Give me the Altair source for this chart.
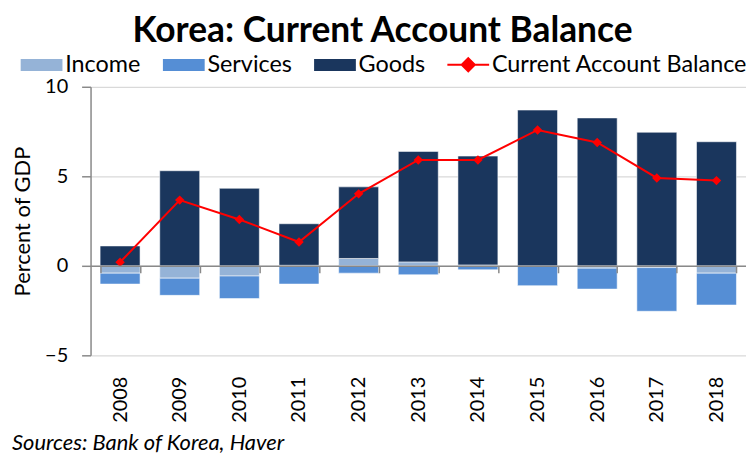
import altair as alt
import pandas as pd

# ---- data ----
years = ["2008", "2009", "2010", "2011", "2012", "2013", "2014", "2015", "2016", "2017", "2018"]
income = [-0.41, -0.69, -0.57, 0.03, 0.41, 0.22, 0.05, 0.0, -0.13, -0.10, -0.41]
services = [-0.61, -0.96, -1.26, -1.02, -0.41, -0.50, -0.22, -1.11, -1.17, -2.44, -1.78]
goods = [1.11, 5.31, 4.33, 2.32, 4.00, 6.17, 6.08, 8.70, 8.26, 7.46, 6.93]
cab = [0.20, 3.67, 2.59, 1.33, 4.02, 5.91, 5.91, 7.59, 6.89, 4.91, 4.76]

components = ["Income", "Services", "Goods"]
comp_colors = ["#95b3d7", "#558ed5", "#1a365d"]
line_name = "Current Account Balance"
line_color = "#ff0000"
title_text = "Korea: Current Account Balance"
y_title = "Percent of GDP"
source_note = "Sources: Bank of Korea, Haver"
y_ticks = [-5, 0, 5, 10]

# ---- tables ----
rows = []
for i, yr in enumerate(years):
    for k, (name, vals) in enumerate(zip(components, [income, services, goods])):
        rows.append({"year": yr, "component": name, "value": vals[i], "order": k})
bars_df = pd.DataFrame(rows)
line_df = pd.DataFrame({"year": years, "value": cab, "series": [line_name] * len(years)})
note_df = pd.DataFrame({"note": [source_note]})

FONT = "Lato"
W, H = 659, 270
GRAY = "#898989"

x_enc = alt.X(
    "year:O",
    sort=years,
    scale=alt.Scale(paddingInner=0.33, paddingOuter=0.16),
    axis=alt.Axis(
        title=None, orient="bottom", offset=-90, labelAngle=-90,
        labelPadding=104, labelFont=FONT, labelFontSize=20, labelColor="black",
        labelOverlap=False, labelBound=False, labelFlush=False,
        domainColor=GRAY, domainWidth=1.5, tickColor=GRAY, tickWidth=1.5,
        tickSize=7, tickBand="extent", grid=False, zindex=1,
    ),
)
y_scale = alt.Scale(domain=[-5, 10], nice=False, zero=False)
y_axis = alt.Axis(
    values=y_ticks, title=y_title, titleFont=FONT, titleFontSize=22,
    titleFontWeight="normal", titleColor="black", titlePadding=10,
    labelFont=FONT, labelFontSize=20, labelColor="black", labelPadding=14,
    tickSize=9, tickColor=GRAY, tickWidth=1.5, domainColor=GRAY, domainWidth=1.5,
    gridColor="#d9d9d9", gridWidth=1.2,
)

rect_symbol = "M-1,-1H6V1H-1Z"
line_symbol = "M-1,0H6M2.5,-1.1L3.6,0L2.5,1.1L1.4,0Z"

legend_common = dict(
    orient="none", legendY=-34, direction="horizontal", title=None, padding=0,
    symbolSize=144, symbolOpacity=1, labelFont=FONT, labelFontSize=23.5,
    labelColor="black", labelOffset=27, labelLimit=0,
)

bars = alt.Chart(bars_df).mark_bar(stroke="white", strokeWidth=1, strokeOpacity=0.55).encode(
    x=x_enc,
    y=alt.Y("sum(value):Q", scale=y_scale, axis=y_axis, stack="zero"),
    color=alt.Color(
        "component:N",
        scale=alt.Scale(domain=components, range=comp_colors),
        legend=alt.Legend(
            legendX=-76, symbolType=rect_symbol, symbolStrokeWidth=0,
            columnPadding=16, **legend_common,
        ),
    ),
    order=alt.Order("order:Q"),
)

line = alt.Chart(line_df).mark_line(strokeWidth=2).encode(
    x=x_enc,
    y=alt.Y("value:Q", scale=y_scale, axis=y_axis),
    stroke=alt.Stroke(
        "series:N",
        scale=alt.Scale(domain=[line_name], range=[line_color]),
        legend=alt.Legend(
            legendX=353, symbolType=line_symbol, symbolStrokeWidth=2,
            symbolFillColor=line_color, **legend_common,
        ),
    ),
)

points = alt.Chart(line_df).mark_point(shape="diamond", filled=True, size=90, opacity=1, color=line_color).encode(
    x=x_enc,
    y=alt.Y("value:Q", scale=y_scale, axis=y_axis),
)

note = alt.Chart(note_df).mark_text(
    align="left", baseline="alphabetic", font=FONT, fontStyle="italic", fontSize=22, color="black"
).encode(x=alt.value(-79), y=alt.value(365), text="note:N")

chart = alt.layer(bars, line, points, note).properties(
    width=W, height=H,
    title=alt.TitleParams(
        title_text, font=FONT, fontSize=35.5, fontWeight="bold", color="black",
        anchor="middle", dx=-36, offset=4,
    ),
    autosize=alt.AutoSizeParams(type="none"),
    padding={"left": 83, "top": 78, "right": 0, "bottom": 99},
).configure_view(stroke=None)

chart.save("out.html", embed_options={"renderer": "svg", "actions": False})
